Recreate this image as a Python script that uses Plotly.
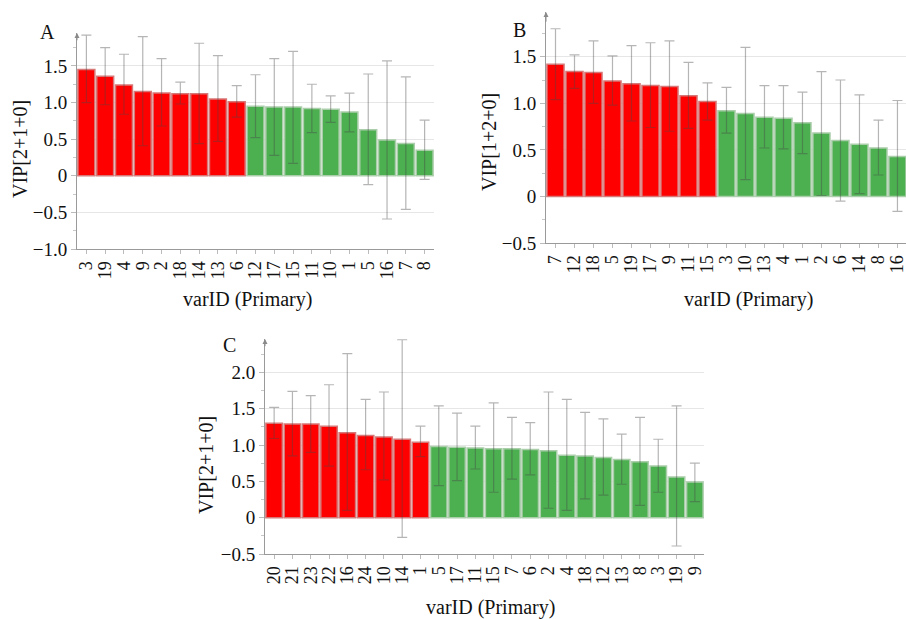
import plotly.graph_objects as go

W, H = 906, 619

# ---------------- data ----------------
a_ids = ["3", "19", "4", "9", "2", "18", "14", "13", "6", "12", "17", "15", "11", "10", "1", "5", "16", "7", "8"]
a_vip = [1.45, 1.36, 1.24, 1.15, 1.13, 1.12, 1.12, 1.05, 1.01, 0.95, 0.94, 0.94, 0.92, 0.91, 0.87, 0.63, 0.49, 0.44, 0.35]
a_hi = [1.92, 1.75, 1.66, 1.90, 1.60, 1.28, 1.81, 1.64, 1.23, 1.38, 1.60, 1.70, 1.25, 1.09, 1.13, 1.39, 1.57, 1.35, 0.76]
a_lo = [1.00, 0.97, 0.84, 0.41, 0.68, 0.98, 0.44, 0.47, 0.80, 0.52, 0.28, 0.17, 0.59, 0.73, 0.60, -0.12, -0.59, -0.46, -0.05]

b_ids = ["7", "12", "18", "5", "19", "17", "9", "11", "15", "3", "10", "13", "4", "1", "2", "6", "14", "8", "16"]
b_vip = [1.42, 1.34, 1.33, 1.24, 1.21, 1.19, 1.18, 1.08, 1.02, 0.92, 0.89, 0.85, 0.84, 0.79, 0.68, 0.60, 0.56, 0.52, 0.43]
b_hi = [1.80, 1.52, 1.67, 1.51, 1.62, 1.65, 1.67, 1.44, 1.22, 1.17, 1.60, 1.19, 1.19, 1.12, 1.34, 1.25, 1.09, 0.82, 1.03]
b_lo = [1.04, 1.16, 1.00, 0.98, 0.81, 0.74, 0.70, 0.73, 0.82, 0.68, 0.18, 0.52, 0.51, 0.46, 0.01, -0.05, 0.03, 0.23, -0.16]

c_ids = ["20", "21", "23", "22", "16", "24", "10", "14", "1", "5", "17", "11", "15", "7", "6", "2", "4", "18", "12", "13", "8", "3", "19", "9"]
c_vip = [1.30, 1.29, 1.29, 1.26, 1.17, 1.13, 1.11, 1.08, 1.04, 0.98, 0.97, 0.96, 0.95, 0.95, 0.94, 0.92, 0.86, 0.85, 0.83, 0.80, 0.77, 0.71, 0.56, 0.49]
c_hi = [1.52, 1.74, 1.68, 1.83, 2.26, 1.63, 1.73, 2.45, 1.26, 1.54, 1.44, 1.26, 1.58, 1.38, 1.31, 1.73, 1.63, 1.45, 1.36, 1.15, 1.38, 1.08, 1.54, 0.75]
c_lo = [1.09, 0.85, 0.90, 0.71, 0.10, 0.66, 0.52, -0.27, 0.84, 0.44, 0.51, 0.67, 0.35, 0.53, 0.59, 0.13, 0.10, 0.26, 0.31, 0.46, 0.17, 0.35, -0.39, 0.22]

n_red = [9, 9, 9]

panel_letters = ["A", "B", "C"]
ytitles = ["VIP[2+1+0]", "VIP[1+2+0]", "VIP[2+1+0]"]
xtitle = "varID (Primary)"

a_ticks = [-1.0, -0.5, 0, 0.5, 1.0, 1.5]
b_ticks = [-0.5, 0, 0.5, 1.0, 1.5]
c_ticks = [-0.5, 0, 0.5, 1.0, 1.5, 2.0]

# ---------------- layout geometry (pixels) ----------------
panels = [
    dict(ids=a_ids, vip=a_vip, hi=a_hi, lo=a_lo, ticks=a_ticks, yr=[-1.0, 1.95],
         px=(77, 434), py=(33, 249), xr=None,
         ytpos=(20, 149), xtpos=(247, 299), lpos=(47, 32)),
    dict(ids=b_ids, vip=b_vip, hi=b_hi, lo=b_lo, ticks=b_ticks, yr=[-0.5, 1.98],
         px=(546, 906), py=(12, 243), xr=[-0.5, 18.45],
         ytpos=(489, 142), xtpos=(748, 299), lpos=(519, 30)),
    dict(ids=c_ids, vip=c_vip, hi=c_hi, lo=c_lo, ticks=c_ticks, yr=[-0.5, 2.46],
         px=(265, 704), py=(339, 554), xr=None,
         ytpos=(206, 465), xtpos=(490, 607), lpos=(229, 345)),
]

RED = "#ff0000"
RED_LINE = "rgba(215,120,120,1)"
GREEN = "#4caf50"
GREEN_LINE = "rgba(170,205,170,1)"
SERIF = "Liberation Serif, serif"


def fmt(v):
    if v == 0:
        return "0"
    s = f"{abs(v):.1f}"
    return ("\u2212" + s) if v < 0 else s


fig = go.Figure()
annotations = []

for i, p in enumerate(panels):
    k = "" if i == 0 else str(i + 1)
    xa, ya = "x" + k, "y" + k
    n = len(p["ids"])
    colors = [RED if j < n_red[i] else GREEN for j in range(n)]
    lcolors = [RED_LINE if j < n_red[i] else GREEN_LINE for j in range(n)]
    plus = [h - v for h, v in zip(p["hi"], p["vip"])]
    minus = [v - l for v, l in zip(p["vip"], p["lo"])]
    fig.add_trace(go.Bar(
        x=p["ids"], y=p["vip"], xaxis=xa, yaxis=ya,
        marker=dict(color=colors, line=dict(color=lcolors, width=1.5)),
        error_y=dict(type="data", symmetric=False, array=plus, arrayminus=minus,
                     color="rgba(70,70,70,0.40)", thickness=1.2, width=5),
        showlegend=False,
    ))
    dom_x = [p["px"][0] / W, p["px"][1] / W]
    dom_y = [1 - p["py"][1] / H, 1 - p["py"][0] / H]
    xr = p["xr"] if p["xr"] is not None else [-0.5, n - 0.5]
    fig.layout["xaxis" + k] = dict(
        domain=dom_x, anchor=ya, type="category", range=xr,
        tickmode="array", tickvals=p["ids"], ticktext=p["ids"],
        showline=True, linecolor="#9a9a9a", linewidth=1,
        ticks="outside", ticklen=4, tickcolor="#bbbbbb",
        tickangle=-90, tickfont=dict(family=SERIF, size=18, color="#111"),
        showgrid=False, zeroline=False, automargin=False, fixedrange=True,
    )
    fig.layout["yaxis" + k] = dict(
        domain=dom_y, anchor=xa, range=p["yr"],
        tickvals=p["ticks"], ticktext=[fmt(t) for t in p["ticks"]],
        tickfont=dict(family=SERIF, size=19, color="#111"),
        showline=True, linecolor="#9a9a9a", linewidth=1,
        ticks="outside", ticklen=5, tickcolor="#bbbbbb",
        minor=dict(dtick=0.25, ticks="outside", ticklen=3, tickcolor="#c8c8c8", showgrid=False),
        showgrid=True, gridcolor="#e6e6e6", gridwidth=1,
        zeroline=True, zerolinecolor="#cfcfcf", zerolinewidth=1,
        automargin=False, fixedrange=True,
    )
    # arrow at top of y axis
    annotations.append(dict(
        x=xr[0], y=p["yr"][1], ax=xr[0], ay=p["yr"][1] - 0.12,
        xref=xa, yref=ya, axref=xa, ayref=ya, text="", showarrow=True,
        arrowhead=2, arrowsize=1, arrowwidth=1, arrowcolor="#8a8a8a",
    ))
    common = dict(xref="paper", yref="paper", showarrow=False,
                  xanchor="center", yanchor="middle",
                  font=dict(family=SERIF, size=20, color="#111"))
    annotations.append(dict(x=p["ytpos"][0] / W, y=1 - p["ytpos"][1] / H,
                            text=ytitles[i], textangle=-90, **common))
    annotations.append(dict(x=p["xtpos"][0] / W, y=1 - p["xtpos"][1] / H,
                            text=xtitle, **common))
    annotations.append(dict(x=p["lpos"][0] / W, y=1 - p["lpos"][1] / H,
                            text=panel_letters[i], **common))

fig.update_layout(
    width=W, height=H, margin=dict(l=0, r=0, t=0, b=0),
    paper_bgcolor="white", plot_bgcolor="white",
    bargap=0.1, annotations=annotations,
)

fig.write_html("out.html", config={"displayModeBar": False})
